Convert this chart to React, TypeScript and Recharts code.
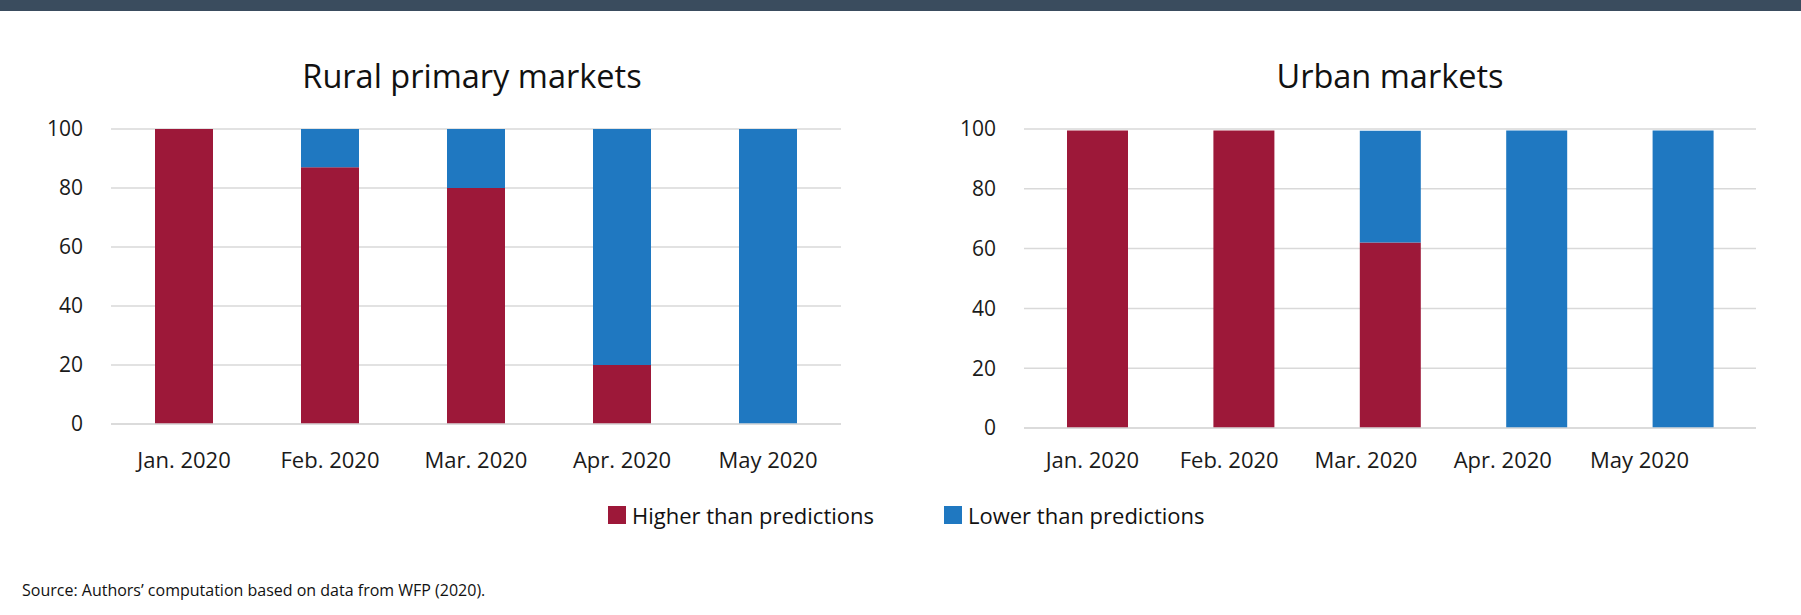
import React from "react"
import { BarChart, Bar, XAxis, YAxis, CartesianGrid, ReferenceLine } from "recharts"

const months = ["Jan. 2020", "Feb. 2020", "Mar. 2020", "Apr. 2020", "May 2020"]
const ruralHigher = [100, 87, 80, 20, 0]
const ruralLower = [0, 13, 20, 80, 100]
const urbanHigher = [99.5, 99.5, 62, 0, 0]
const urbanLower = [0, 0, 37.4, 99.5, 99.5]
const yTicks = [0, 20, 40, 60, 80, 100]
const seriesNames = ["Higher than predictions", "Lower than predictions"]
const seriesColors = ["#9d1839", "#1f78c1"]
const titles = ["Rural primary markets", "Urban markets"]
const source = "Source: Authors\u2019 computation based on data from WFP (2020)."

const FONT = "'Open Sans', 'Noto Sans', sans-serif"
const GRID = "#d9d9d9"

const ruralData = months.map((m, i) => ({ month: m, higher: ruralHigher[i], lower: ruralLower[i] }))
const urbanData = months.map((m, i) => ({ month: m, higher: urbanHigher[i], lower: urbanLower[i] }))

type PanelProps = {
  data: { month: string; higher: number; lower: number }[]
  margin: { top: number; right: number; bottom: number; left: number }
  barSize: number
  xTickMargin: number
  // in the urban panel the month labels sit on a tighter spacing than the bars
  labelPadRight?: number
}

function Panel({ data, margin, barSize, xTickMargin, labelPadRight }: PanelProps) {
  const tickStyle = { fontSize: 22, fill: "#1a1a1a", fontFamily: FONT }
  const shifted = labelPadRight !== undefined
  return (
    <BarChart width={900} height={500} data={data} margin={margin} barSize={barSize}>
      <CartesianGrid vertical={false} stroke={GRID} strokeWidth={1.5} />
      <XAxis
        dataKey="month"
        hide={shifted}
        axisLine={false}
        tickLine={false}
        tickSize={0}
        tickMargin={xTickMargin}
        height={shifted ? 0 : 40}
        tick={tickStyle}
      />
      {shifted && (
        <XAxis
          xAxisId="labels"
          dataKey="month"
          padding={{ left: 0, right: labelPadRight }}
          axisLine={false}
          tickLine={false}
          tickSize={0}
          tickMargin={xTickMargin}
          height={40}
          tick={tickStyle}
        />
      )}
      <YAxis
        domain={[0, 100]}
        ticks={yTicks}
        axisLine={false}
        tickLine={false}
        tickSize={0}
        tickMargin={28}
        width={60}
        tick={{ fontSize: 21, fill: "#1a1a1a", fontFamily: FONT }}
      />
      <Bar dataKey="higher" stackId="a" fill={seriesColors[0]} isAnimationActive={false} />
      <Bar dataKey="lower" stackId="a" fill={seriesColors[1]} isAnimationActive={false} />
      <ReferenceLine y={0} stroke={GRID} strokeWidth={1.5} />
    </BarChart>
  )
}

export default function App() {
  return (
    <div style={{ position: "absolute", left: 0, top: 0, width: 1801, height: 615, background: "#fff", fontFamily: FONT }}>
      <div style={{ position: "absolute", left: 0, top: 0 }}>
        <Panel data={ruralData} margin={{ top: 129, right: 59, bottom: 36, left: 51 }} barSize={58} xTickMargin={28} />
      </div>
      <div style={{ position: "absolute", left: 900, top: 0 }}>
        <Panel
          data={urbanData}
          margin={{ top: 129, right: 44, bottom: 32, left: 64 }}
          barSize={61}
          xTickMargin={24}
          labelPadRight={48}
        />
      </div>
      <svg width={1801} height={615} style={{ position: "absolute", left: 0, top: 0, pointerEvents: "none" }}>
        <rect x={0} y={0} width={1801} height={11} fill="#3a4c5e" />
        <text x={472} y={88} textAnchor="middle" fontSize={32.5} fill="#111" fontFamily={FONT}>
          {titles[0]}
        </text>
        <text x={1390} y={88} textAnchor="middle" fontSize={32.5} fill="#111" fontFamily={FONT}>
          {titles[1]}
        </text>
        {seriesNames.map((name, i) => {
          const x0 = i === 0 ? 608 : 944
          return (
            <g key={name}>
              <rect x={x0} y={506} width={18} height={18} fill={seriesColors[i]} />
              <text x={x0 + 24} y={524} fontSize={22} fill="#111" fontFamily={FONT}>
                {name}
              </text>
            </g>
          )
        })}
        <text x={22} y={596} fontSize={16} fill="#111" fontFamily={FONT}>
          {source}
        </text>
      </svg>
    </div>
  )
}
